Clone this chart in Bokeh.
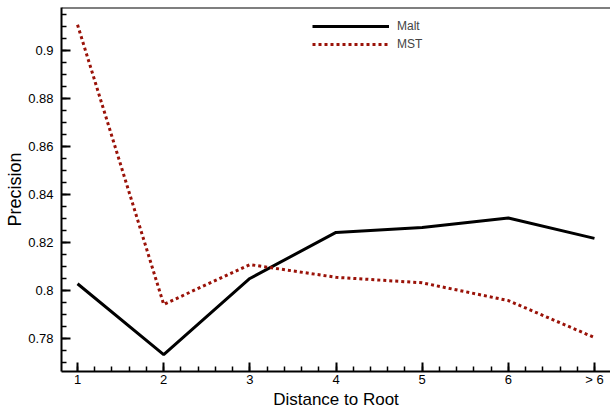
import numpy as np
from bokeh.plotting import figure
from bokeh.models import (FixedTicker, SingleIntervalTicker, NumeralTickFormatter,
                          Legend, LegendItem, Span, Range1d)
from bokeh.embed import file_html
from bokeh.resources import INLINE

categories = ["1", "2", "3", "4", "5", "6", "> 6"]
malt = [0.8028, 0.7733, 0.8050, 0.8242, 0.8262, 0.8302, 0.8217]
mst = [0.9107, 0.7942, 0.8108, 0.8055, 0.8032, 0.7958, 0.7804]
series_names = ["Malt", "MST"]
x_title = "Distance to Root"
y_title = "Precision"

x = list(range(1, len(categories) + 1))
FONT = "Liberation Sans"

W, H = 610, 411
LEFT, TOP, BOTTOM = 61, 7, 40
FRAME_H = H - TOP - BOTTOM
X0, X1 = 0.814, 7.186
Y0, Y1 = 0.76625, 0.9179

p = figure(width=W, height=H, output_backend="svg", toolbar_location=None,
           x_range=Range1d(X0, X1), y_range=Range1d(Y0, Y1),
           min_border_left=LEFT, min_border_right=0, min_border_top=TOP,
           min_border_bottom=BOTTOM, title=None)
p.outline_line_color = None
p.grid.visible = False
p.background_fill_color = "white"
p.border_fill_color = "white"

r1 = p.line(x, malt, line_color="black", line_width=3)
r2 = p.line(x, mst, line_color="#9A1208", line_width=3, line_dash="3 3")

# top border
p.add_layout(Span(location=Y1, dimension="width", line_color="black", line_width=2))

xa = p.xaxis[0]
xa.ticker = FixedTicker(ticks=x, minor_ticks=list(np.arange(1, len(categories) + 0.01, 0.2)))
xa.major_label_overrides = {i + 1: c for i, c in enumerate(categories)}
ya = p.yaxis[0]
ya.ticker = SingleIntervalTicker(interval=0.02, num_minor_ticks=4)
ya.formatter = NumeralTickFormatter(format="0.[00]")

for ax in (xa, ya):
    ax.axis_line_width = 2
    ax.axis_line_color = "black"
    ax.major_tick_in = 9
    ax.major_tick_out = 0
    ax.minor_tick_in = 5
    ax.minor_tick_out = 0
    ax.major_tick_line_width = 2
    ax.minor_tick_line_width = 1.5
    ax.major_label_text_font = FONT
    ax.major_label_text_font_size = "13px"
    ax.major_label_text_color = "black"
    ax.axis_label_text_font = FONT
    ax.axis_label_text_font_style = "normal"
    ax.axis_label_text_color = "black"

xa.axis_label = x_title
xa.axis_label_text_font_size = "17px"
xa.major_label_standoff = 0
xa.axis_label_standoff = 0
ya.axis_label = y_title
ya.axis_label_text_font_size = "18px"
ya.major_label_standoff = 8
ya.axis_label_standoff = 0

legend = Legend(items=[LegendItem(label=series_names[0], renderers=[r1]),
                       LegendItem(label=series_names[1], renderers=[r2])],
                location=(251, FRAME_H - 45.5), padding=0, margin=0, spacing=0,
                glyph_width=77, glyph_height=18, label_height=18, label_standoff=8,
                label_text_font=FONT, label_text_font_size="12px",
                border_line_color=None, background_fill_alpha=0)
p.add_layout(legend)

open("out.html", "w").write(file_html(p, INLINE))
